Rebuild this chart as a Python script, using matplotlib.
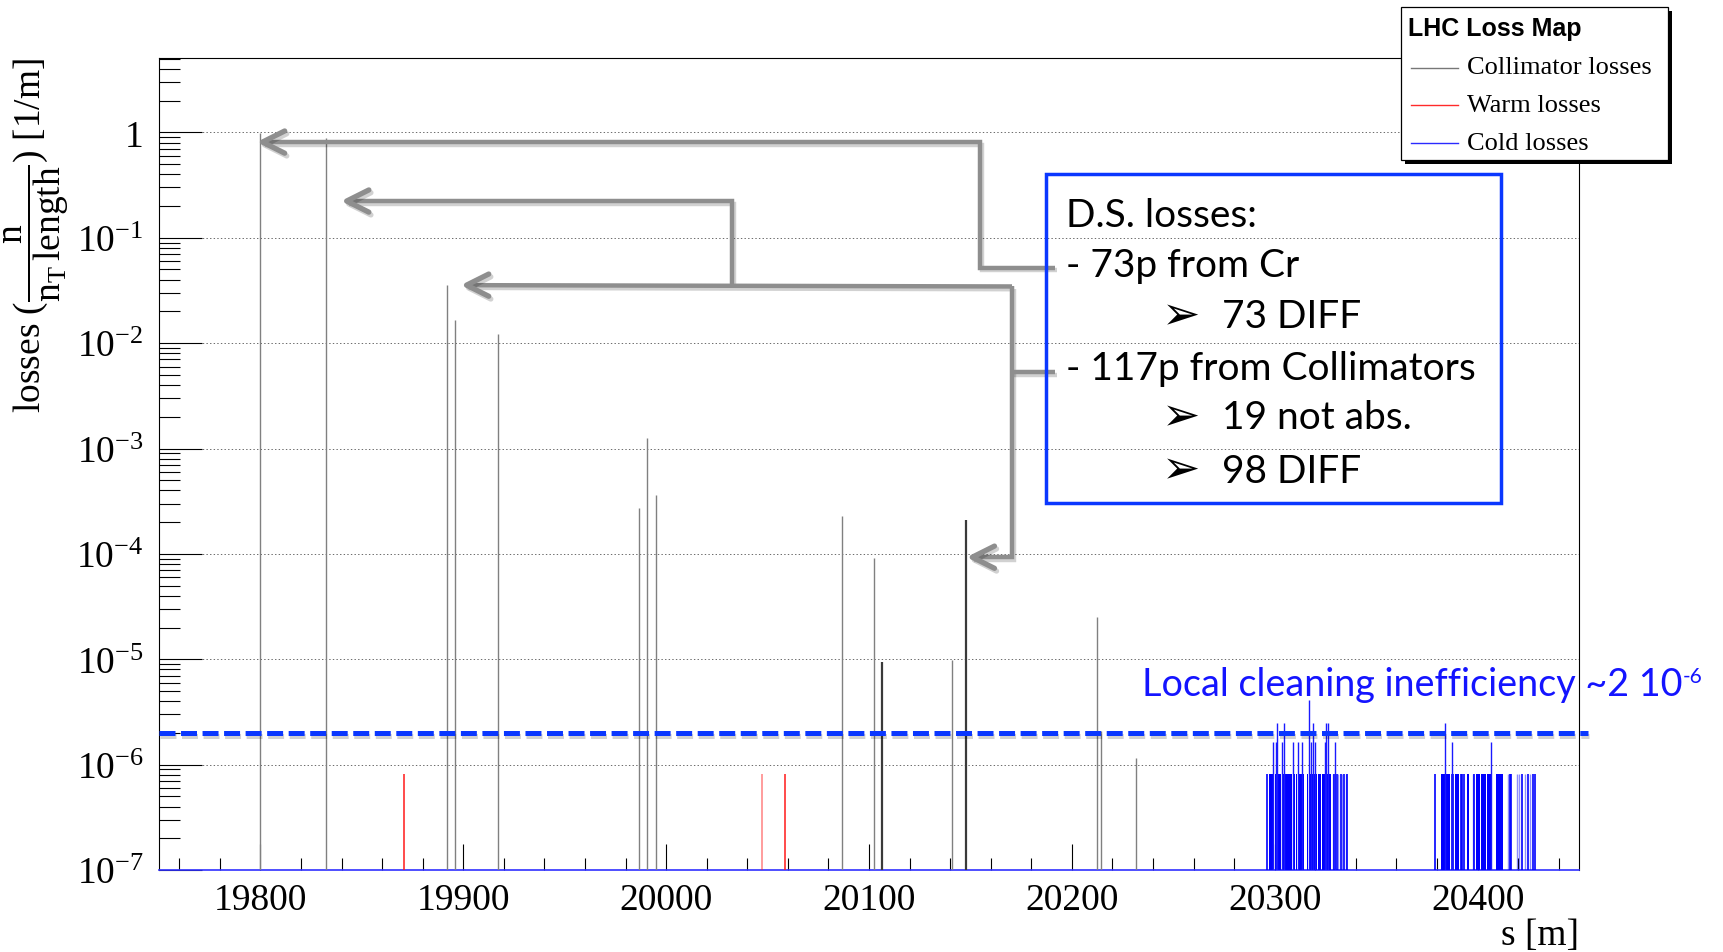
import numpy as np
import matplotlib
matplotlib.use("Agg")
import matplotlib.pyplot as plt
from matplotlib.patches import Rectangle
from matplotlib.lines import Line2D
from matplotlib.path import Path
from matplotlib.markers import MarkerStyle
import matplotlib.patheffects as pe
from matplotlib.ticker import FixedLocator, LogLocator, NullFormatter

plt.rcParams["lines.scale_dashes"] = False
plt.rcParams["font.family"] = ["Liberation Serif", "DejaVu Sans"]
plt.rcParams["mathtext.fontset"] = "custom"
plt.rcParams["mathtext.rm"] = "Liberation Serif"
plt.rcParams["mathtext.it"] = "Liberation Serif"
plt.rcParams["mathtext.default"] = "rm"

# ---------------- data ----------------
s_range = (19750, 20450)
loss_floor = 1e-7
loss_top = 5.08

# collimator losses (position [m], loss [1/m])
coll_s = [19800.0, 19832.3, 19892.0, 19896.1, 19917.0, 19986.7, 19990.8, 19995.0,
          20086.6, 20102.5, 20106.3, 20140.8, 20147.8, 20212.4, 20214.3, 20231.8]
coll_loss = [0.98, 0.88, 0.0355, 0.0165, 0.0123, 2.7e-4, 1.25e-3, 3.6e-4,
             2.3e-4, 9.2e-5, 9.5e-6, 9.8e-6, 2.1e-4, 2.5e-5, 2.07e-6, 1.16e-6]

# warm-element losses
warm_s = [19870.9, 20047.2, 20058.6]
warm_loss = [8.2e-7, 8.2e-7, 8.2e-7]

# cold-element losses: single-particle bins grouped in contiguous runs
cold_run_lo = [20297.3, 20300.0, 20301.8, 20303.4, 20305.1, 20309.2, 20310.5, 20311.3,
               20315.7, 20317.1, 20321.5, 20323.1,
               20381.8, 20388.9, 20394.6, 20399.2, 20401.7, 20404.5, 20409.1]
cold_run_hi = [20299.3, 20301.0, 20302.9, 20304.6, 20308.5, 20310.0, 20311.1, 20314.4,
               20316.6, 20320.7, 20322.6, 20327.6,
               20386.4, 20391.0, 20395.9, 20401.2, 20404.1, 20407.1, 20412.7]
cold_run_loss = 8.2e-7
cold_single_s = [20296.4, 20329.2, 20330.5, 20332.5, 20334.3, 20335.6, 20379.0,
                 20387.2, 20387.8, 20391.8, 20392.4, 20393.5, 20398.3, 20416.2,
                 20416.7, 20422.0, 20424.7, 20427.3, 20428.2]
cold_faint_s = [20328.6, 20331.4, 20333.0, 20334.9, 20397.9, 20414.8, 20419.4,
                20420.5, 20423.4, 20425.8]
cold_peak_s = [20299.0, 20300.6, 20301.3, 20303.4, 20304.6, 20309.2, 20311.3, 20313.3,
               20316.9, 20317.9, 20319.0, 20319.9, 20324.8, 20325.1, 20326.4, 20329.9,
               20383.9, 20387.2, 20406.4]
cold_peak_loss = [1.64e-6, 1.64e-6, 2.46e-6, 1.64e-6, 2.46e-6, 1.64e-6, 1.64e-6, 1.64e-6,
                  4.1e-6, 1.64e-6, 2.46e-6, 1.64e-6, 1.64e-6, 2.46e-6, 2.46e-6, 1.64e-6,
                  2.46e-6, 1.64e-6, 1.64e-6]

inefficiency = 2e-6

x_ticks = [19800, 19900, 20000, 20100, 20200, 20300, 20400]
y_ticks = [1e-7, 1e-6, 1e-5, 1e-4, 1e-3, 1e-2, 1e-1, 1]
y_tick_labels = [r"$10^{-7}$", r"$10^{-6}$", r"$10^{-5}$", r"$10^{-4}$",
                 r"$10^{-3}$", r"$10^{-2}$", r"$10^{-1}$", "1"]

series_names = ["Collimator losses", "Warm losses", "Cold losses"]
legend_title = "LHC Loss Map"

ds_lines = ["D.S. losses:", "- 73p from Cr", "73 DIFF",
            "- 117p from Collimators", "19 not abs.", "98 DIFF"]
ds_indent = [0, 0, 1, 0, 1, 1]

# annotation arrows (s, loss) from the text box to the loss peaks
arrow_paths = [
    [(20191.7, 0.0522), (20154.7, 0.0522), (20154.7, 0.809), (19801.0, 0.809)],
    [(20032.4, 0.0352), (20032.4, 0.223), (19842.5, 0.223)],
    [(20170.5, 0.0345), (19901.6, 0.0355)],
    [(20170.5, 0.0345), (20170.5, 9.3e-5), (20150.9, 9.3e-5)],
]
connector_paths = [
    [(20191.7, 5.35e-3), (20170.5, 5.35e-3)],
]

# ---------------- figure ----------------
W, H = 1723, 953
fig = plt.figure(figsize=(W / 100, H / 100), dpi=100)
fig.patch.set_facecolor("white")


def fx(x):
    return x / W


def fy(y):
    return 1 - y / H


ax = fig.add_axes([fx(159), fy(871), 1420 / W, 812 / H])
ax.set_yscale("log")
ax.set_xlim(*s_range)
ax.set_ylim(loss_floor, loss_top)

# grid
ax.yaxis.grid(True, which="major", linestyle=(0, (1, 1.6)), color="#6a6a6a", linewidth=0.7)
ax.xaxis.grid(False)
ax.set_axisbelow(True)

# loss histograms
coll_colors = ["#808080"] * len(coll_s)
coll_widths = [1.0] * len(coll_s)
for i, s in enumerate(coll_s):
    if s in (20106.3, 20147.8):
        coll_colors[i] = "#3a3a3a"
        coll_widths[i] = 1.6
ax.vlines(coll_s, loss_floor, coll_loss, colors=coll_colors, linewidths=coll_widths, zorder=3)

warm_alpha = [1.0, 0.55, 1.0]
for s, v, a in zip(warm_s, warm_loss, warm_alpha):
    ax.vlines(s, loss_floor, v, colors="#ff1a1a", linewidth=1.1, alpha=a, zorder=3)

ax.bar(cold_run_lo, [cold_run_loss - loss_floor] * len(cold_run_lo),
       width=np.array(cold_run_hi) - np.array(cold_run_lo), bottom=loss_floor,
       align="edge", color="#0000ff", linewidth=0, zorder=3)
ax.vlines(cold_single_s, loss_floor, cold_run_loss, colors="#0000ff", linewidth=1.2, zorder=3)
ax.vlines(cold_faint_s, loss_floor, cold_run_loss, colors="#0000ff", linewidth=1.0,
          alpha=0.45, zorder=3)
ax.vlines(cold_peak_s, loss_floor, cold_peak_loss, colors="#1a1aff", linewidth=1.0, zorder=3)

# axes frame and ticks
for side in ("left", "top", "right"):
    ax.spines[side].set_color("black")
    ax.spines[side].set_linewidth(0.8)
ax.spines["bottom"].set_color("#3030ff")
ax.spines["bottom"].set_linewidth(1.2)

ax.xaxis.set_major_locator(FixedLocator(x_ticks))
ax.xaxis.set_minor_locator(FixedLocator(np.arange(19760, 20450, 20)))
ax.yaxis.set_major_locator(FixedLocator(y_ticks))
ax.yaxis.set_minor_locator(LogLocator(base=10, subs=np.arange(2, 10), numticks=30))
ax.yaxis.set_minor_formatter(NullFormatter())
ax.set_yticklabels(y_tick_labels)
ax.set_xticklabels([str(t) for t in x_ticks])

ax.tick_params(axis="x", which="major", direction="in", length=18.5, width=0.8,
               top=False, labelsize=27, pad=9, color="black")
ax.tick_params(axis="x", which="minor", direction="in", length=9, width=0.8,
               top=False, color="black")
ax.tick_params(axis="y", which="major", direction="in", length=30.7, width=0.8,
               right=False, labelsize=27, pad=11, color="black")
ax.tick_params(axis="y", which="minor", direction="in", length=15.3, width=0.8,
               right=False, color="black")

# axis titles
fig.text(fx(37), fy(58), r"losses $(\dfrac{n}{n_{T}\,length})$ [1/m]", rotation=90,
         ha="center", va="top", fontsize=27)
fig.text(fx(1579), fy(936), "s [m]", ha="right", va="center", fontsize=27)

# ---------------- inefficiency level ----------------
shadow_line = [pe.SimpleLineShadow(offset=(0.5, -2.5), shadow_color="#000000", alpha=0.18),
               pe.Normal()]
lvl = Line2D([s_range[0], 20454.4], [inefficiency, inefficiency], color="#0a37ff",
             linewidth=3.6, linestyle=(0, (11.5, 4.0)), solid_capstyle="butt",
             dash_capstyle="butt", clip_on=False, zorder=6, path_effects=shadow_line)
ax.add_line(lvl)

sans = ["Lato", "DejaVu Sans"]
lt = fig.text(fx(1142), fy(696), "Local cleaning inefficiency ~2 10", color="#1414ff",
              fontsize=27.2, family=sans, ha="left", va="baseline")
ax.annotate("-6", xy=(1, 1), xycoords=lt, xytext=(0.5, 0), textcoords="offset points",
            ha="left", va="top", color="#1414ff", fontsize=15, family=sans,
            annotation_clip=False)

# ---------------- arrows ----------------
arrow_col = "#8e8e8e"
shadow_arrow = [pe.SimpleLineShadow(offset=(1.5, -2.0), shadow_color="#000000", alpha=0.18),
                pe.Normal()]
head = MarkerStyle(Path([(1.0, 0.5), (0.0, 0.0), (1.0, -0.5)],
                        [Path.MOVETO, Path.LINETO, Path.LINETO]),
                   joinstyle="round", capstyle="round")
for path in arrow_paths:
    xs, ys = zip(*path)
    ax.plot(xs, ys, color=arrow_col, linewidth=3.2, solid_joinstyle="miter",
            solid_capstyle="butt", zorder=7, path_effects=shadow_arrow)
    ax.plot([xs[-1]], [ys[-1]], marker=head, markersize=32, markerfacecolor="none",
            markeredgecolor=arrow_col, markeredgewidth=3.8, zorder=7,
            path_effects=shadow_arrow)
for path in connector_paths:
    xs, ys = zip(*path)
    ax.plot(xs, ys, color=arrow_col, linewidth=3.2, solid_capstyle="butt", zorder=7,
            path_effects=shadow_arrow)

# ---------------- D.S. summary box ----------------
box = Rectangle((fx(1046), fy(504)), (1501 - 1046) / W, (504 - 175) / H,
                transform=fig.transFigure, facecolor="none", edgecolor="#0a37ff",
                linewidth=2.5, zorder=8)
fig.add_artist(box)
baselines = [226.7, 277, 328, 380, 429, 482.7]
for txt, ind, yb in zip(ds_lines, ds_indent, baselines):
    if ind == 0:
        fig.text(fx(1066), fy(yb), txt, fontsize=28, family=sans,
                 ha="left", va="baseline", color="black")
    else:
        fig.text(fx(1162), fy(yb + 1), "\u27a2", fontsize=33, family=["DejaVu Sans"],
                 ha="left", va="baseline", color="black")
        fig.text(fx(1222), fy(yb), txt, fontsize=28, family=sans,
                 ha="left", va="baseline", color="black")

# ---------------- legend ----------------
leg_shadow = Rectangle((fx(1405), fy(165)), (1668 - 1401) / W, (161 - 8) / H,
                       transform=fig.transFigure, facecolor="black", edgecolor="black",
                       linewidth=0, zorder=9)
leg_box = Rectangle((fx(1401), fy(161)), (1668 - 1401) / W, (161 - 8) / H,
                    transform=fig.transFigure, facecolor="white", edgecolor="black",
                    linewidth=0.9, zorder=10)
fig.add_artist(leg_shadow)
fig.add_artist(leg_box)
fig.text(fx(1408), fy(36), legend_title, fontsize=18, fontweight="bold",
         family=["Liberation Sans", "DejaVu Sans"], ha="left", va="baseline", zorder=11)
legend_colors = ["#777777", "#ff2a2a", "#2a2aff"]
for name, col, yc in zip(series_names, legend_colors, [68.5, 106, 144]):
    fig.add_artist(Line2D([fx(1411), fx(1458)], [fy(yc), fy(yc)], color=col,
                          linewidth=1.0, transform=fig.transFigure, zorder=11))
    fig.text(fx(1467), fy(yc), name, fontsize=19, ha="left", va="center", zorder=11)

fig.savefig("out.png", dpi=100)
